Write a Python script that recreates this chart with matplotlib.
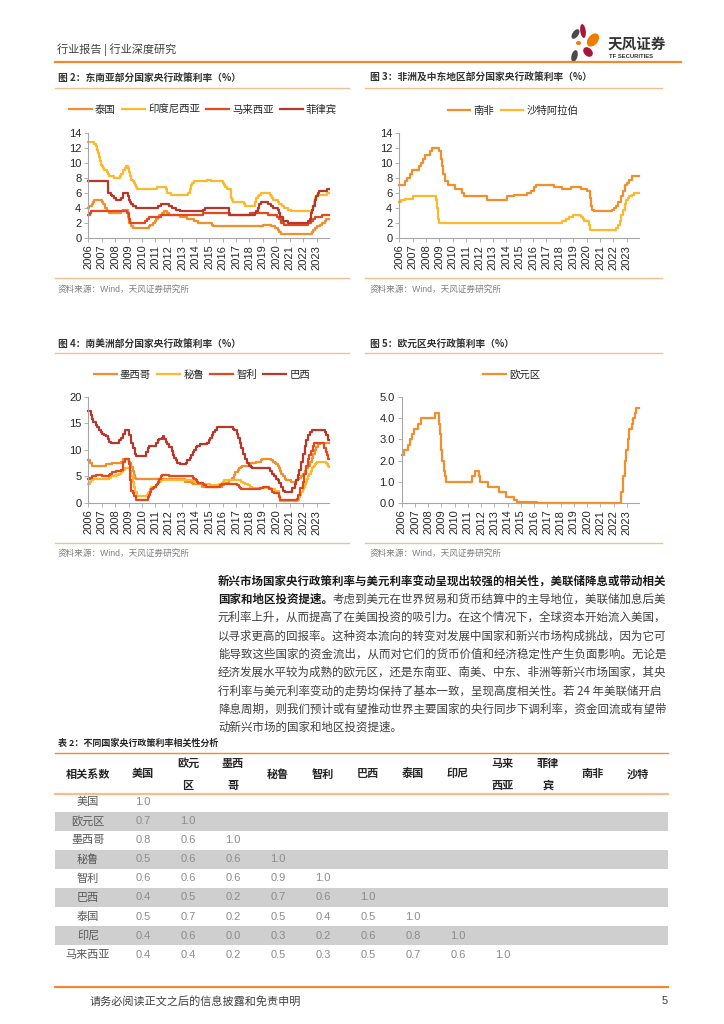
import matplotlib
matplotlib.use("Agg")
import matplotlib.pyplot as plt
from matplotlib.patches import Ellipse, Rectangle

plt.rcParams['font.family'] = ['Liberation Sans', 'Noto Sans CJK SC']
CJK = ['Noto Sans CJK SC', 'DejaVu Sans']

# ---------------- data ----------------
years = list(range(2006, 2024))

# 图2 东南亚
th_t = [2006.00, 2006.08, 2006.25, 2006.33, 2006.45, 2007.04, 2007.12, 2007.25, 2007.38, 2007.55,
        2008.45, 2008.62, 2008.92, 2009.04, 2009.15, 2009.30, 2010.55, 2010.63, 2010.80, 2010.95,
        2011.04, 2011.20, 2011.30, 2011.45, 2011.63, 2011.88, 2012.04, 2012.80, 2013.38, 2013.88,
        2014.20, 2015.20, 2015.30, 2018.97, 2019.60, 2019.88, 2020.10, 2020.22, 2020.38, 2022.62,
        2022.75, 2022.88, 2023.05, 2023.22, 2023.38, 2023.60, 2023.72, 2023.92]
th_v = [4.0, 4.25, 4.5, 4.75, 5.0, 4.75, 4.5, 4.0, 3.5, 3.25,
        3.5, 3.75, 2.75, 2.0, 1.5, 1.25, 1.5, 1.75, 2.0, 2.25,
        2.5, 2.75, 3.0, 3.25, 3.5, 3.25, 3.0, 2.75, 2.5, 2.25,
        2.0, 1.75, 1.5, 1.75, 1.5, 1.25, 1.0, 0.75, 0.5, 0.75,
        1.0, 1.25, 1.5, 1.75, 2.0, 2.25, 2.5, 2.5]

id_t = [2006.00, 2006.42, 2006.55, 2006.62, 2006.70, 2006.78, 2006.87, 2006.95, 2007.04, 2007.12,
        2007.20, 2007.38, 2007.45, 2007.55, 2007.95, 2008.38, 2008.45, 2008.55, 2008.62, 2008.70,
        2008.80, 2008.95, 2009.04, 2009.12, 2009.20, 2009.30, 2009.38, 2009.45, 2009.55, 2009.62,
        2011.12, 2011.78, 2011.87, 2012.12, 2013.45, 2013.55, 2013.62, 2013.70, 2013.87, 2014.87,
        2015.12, 2016.04, 2016.12, 2016.20, 2016.30, 2016.62, 2016.70, 2016.78, 2017.62, 2017.70,
        2018.38, 2018.42, 2018.48, 2018.62, 2018.70, 2018.87, 2019.55, 2019.62, 2019.70, 2019.78,
        2020.12, 2020.20, 2020.45, 2020.55, 2020.87, 2021.12, 2022.62, 2022.70, 2022.78, 2022.87,
        2022.95, 2023.04, 2023.78, 2023.92]
id_v = [12.75, 12.5, 12.25, 11.75, 11.25, 10.75, 10.25, 9.75, 9.5, 9.25,
        9.0, 8.75, 8.5, 8.25, 8.0, 8.25, 8.5, 8.75, 9.0, 9.25,
        9.5, 9.25, 8.75, 8.25, 7.75, 7.5, 7.25, 7.0, 6.75, 6.5,
        6.75, 6.5, 6.0, 5.75, 6.0, 6.5, 7.0, 7.25, 7.5, 7.75,
        7.5, 7.25, 7.0, 6.75, 6.5, 5.25, 5.0, 4.75, 4.5, 4.25,
        4.5, 4.75, 5.25, 5.5, 5.75, 6.0, 5.75, 5.5, 5.25, 5.0,
        4.75, 4.5, 4.25, 4.0, 3.75, 3.5, 3.75, 4.25, 4.75, 5.25,
        5.5, 5.75, 6.0, 6.0]

my_t = [2006.00, 2006.12, 2006.23, 2008.87, 2009.04, 2009.12, 2010.20, 2010.38, 2010.55, 2011.38,
        2014.55, 2016.55, 2018.04, 2019.38, 2020.04, 2020.20, 2020.38, 2020.55, 2022.38, 2022.55,
        2022.70, 2022.87, 2023.38, 2023.92]
my_v = [3.0, 3.25, 3.5, 3.25, 2.5, 2.0, 2.25, 2.5, 2.75, 3.0,
        3.25, 3.0, 3.25, 3.0, 2.75, 2.5, 2.0, 1.75, 2.0, 2.25,
        2.5, 2.75, 3.0, 3.0]

ph_t = [2006.00, 2007.50, 2007.70, 2007.80, 2007.95, 2008.04, 2008.45, 2008.55, 2008.62, 2008.95,
        2009.04, 2009.12, 2009.20, 2009.30, 2009.55, 2011.20, 2011.38, 2012.04, 2012.20, 2012.55,
        2012.80, 2014.55, 2014.70, 2016.45, 2018.38, 2018.47, 2018.62, 2018.72, 2018.87, 2019.38,
        2019.62, 2019.72, 2020.12, 2020.22, 2020.30, 2020.47, 2020.87, 2022.38, 2022.47, 2022.55,
        2022.62, 2022.72, 2022.87, 2022.95, 2023.12, 2023.20, 2023.80, 2023.92]
ph_v = [7.5, 6.0, 5.75, 5.5, 5.25, 5.0, 5.25, 5.5, 6.0, 5.5,
        5.0, 4.75, 4.5, 4.25, 4.0, 4.25, 4.5, 4.25, 4.0, 3.75,
        3.5, 3.75, 4.0, 3.0, 3.25, 3.5, 4.0, 4.5, 4.75, 4.5,
        4.25, 4.0, 3.75, 3.25, 2.75, 2.25, 2.0, 2.25, 2.5, 3.25,
        3.75, 4.25, 5.0, 5.5, 6.0, 6.25, 6.5, 6.5]

# 图3 非洲及中东
za_t = [2006.00, 2006.45, 2006.60, 2006.80, 2006.95, 2007.45, 2007.62, 2007.78, 2007.95, 2008.30,
        2008.45, 2008.95, 2009.12, 2009.20, 2009.30, 2009.38, 2009.62, 2010.20, 2010.70, 2010.87,
        2012.55, 2014.04, 2014.55, 2015.55, 2015.87, 2016.04, 2016.20, 2017.55, 2018.20, 2018.87,
        2019.55, 2020.04, 2020.22, 2020.30, 2020.38, 2020.55, 2021.87, 2022.04, 2022.20, 2022.38,
        2022.55, 2022.72, 2022.87, 2023.04, 2023.20, 2023.38, 2023.92]
za_v = [7.0, 7.5, 8.0, 8.5, 9.0, 9.5, 10.0, 10.5, 11.0, 11.5,
        12.0, 11.5, 10.5, 9.5, 8.5, 7.5, 7.0, 6.5, 6.0, 5.5,
        5.0, 5.5, 5.75, 6.0, 6.25, 6.75, 7.0, 6.75, 6.5, 6.75,
        6.5, 6.25, 5.25, 4.25, 3.75, 3.5, 3.75, 4.0, 4.25, 4.75,
        5.5, 6.25, 7.0, 7.25, 7.75, 8.25, 8.25]

sa_t = [2006.00, 2006.10, 2006.45, 2007.00, 2008.75, 2008.83, 2008.92, 2009.00, 2018.20, 2018.45,
        2018.70, 2018.95, 2019.62, 2019.72, 2019.82, 2020.15, 2020.22, 2022.20, 2022.38, 2022.47,
        2022.55, 2022.72, 2022.87, 2022.95, 2023.12, 2023.20, 2023.38, 2023.55, 2023.92]
sa_v = [4.75, 5.0, 5.2, 5.5, 5.0, 4.0, 2.5, 2.0, 2.25, 2.5,
        2.75, 3.0, 2.75, 2.5, 2.25, 1.75, 1.0, 1.25, 1.75, 2.25,
        3.0, 3.75, 4.5, 5.0, 5.25, 5.5, 5.75, 6.0, 6.0]

# 图4 南美洲
mx_t = [2006.00, 2006.12, 2006.30, 2007.30, 2007.80, 2008.45, 2008.55, 2008.62, 2009.04, 2009.12,
        2009.20, 2009.30, 2009.38, 2009.45, 2009.55, 2013.20, 2013.70, 2013.80, 2014.45, 2015.95,
        2016.12, 2016.45, 2016.72, 2016.87, 2016.95, 2017.12, 2017.20, 2017.38, 2017.47, 2017.95,
        2018.12, 2018.47, 2018.87, 2018.95, 2019.62, 2019.72, 2019.87, 2019.95, 2020.12, 2020.22,
        2020.30, 2020.38, 2020.47, 2020.62, 2020.72, 2021.12, 2021.47, 2021.62, 2021.72, 2021.87,
        2021.95, 2022.12, 2022.22, 2022.38, 2022.47, 2022.62, 2022.72, 2022.87, 2022.95, 2023.12,
        2023.22, 2023.92]
mx_v = [8.0, 7.5, 7.0, 7.25, 7.5, 7.75, 8.0, 8.25, 7.75, 7.5,
        6.75, 6.0, 5.25, 4.75, 4.5, 4.0, 3.75, 3.5, 3.0, 3.25,
        3.75, 4.25, 4.75, 5.25, 5.75, 6.25, 6.5, 6.75, 7.0, 7.25,
        7.5, 7.75, 8.0, 8.25, 8.0, 7.75, 7.5, 7.25, 7.0, 6.5,
        6.0, 5.5, 5.0, 4.5, 4.25, 4.0, 4.25, 4.5, 4.75, 5.0,
        5.5, 6.0, 6.5, 7.0, 7.75, 8.5, 9.25, 10.0, 10.5, 11.0,
        11.25, 11.25]

pe_t = [2006.00, 2006.10, 2006.20, 2006.35, 2007.55, 2007.70, 2008.04, 2008.30, 2008.45, 2008.55,
        2008.62, 2008.70, 2009.12, 2009.20, 2009.30, 2009.38, 2009.45, 2009.60, 2010.38, 2010.45,
        2010.55, 2010.62, 2010.70, 2011.04, 2011.12, 2011.20, 2011.30, 2011.38, 2013.87, 2014.04,
        2014.55, 2015.04, 2015.70, 2015.95, 2016.04, 2016.12, 2017.38, 2017.55, 2017.70, 2017.87,
        2018.04, 2018.20, 2019.62, 2019.87, 2020.20, 2020.30, 2021.62, 2021.72, 2021.78, 2021.87,
        2021.95, 2022.04, 2022.12, 2022.20, 2022.30, 2022.38, 2022.45, 2022.55, 2022.62, 2022.70,
        2022.78, 2022.87, 2022.95, 2023.04, 2023.70, 2023.78, 2023.84, 2023.92]
pe_v = [3.5, 4.0, 4.25, 4.5, 4.75, 5.0, 5.25, 5.5, 5.75, 6.0,
        6.25, 6.5, 6.0, 5.0, 4.0, 3.0, 2.0, 1.25, 1.5, 1.75,
        2.0, 2.5, 3.0, 3.25, 3.5, 3.75, 4.0, 4.25, 4.0, 3.75,
        3.5, 3.25, 3.5, 3.75, 4.0, 4.25, 4.0, 3.75, 3.5, 3.25,
        3.0, 2.75, 2.5, 2.25, 1.25, 0.25, 0.5, 1.0, 1.5, 2.0,
        2.5, 3.0, 3.5, 4.0, 4.5, 5.0, 5.5, 6.0, 6.5, 6.75,
        7.0, 7.25, 7.5, 7.75, 7.5, 7.25, 7.0, 6.75]

cl_t = [2006.00, 2006.12, 2006.30, 2006.55, 2007.04, 2007.55, 2007.62, 2007.78, 2008.04, 2008.45,
        2008.55, 2008.62, 2008.70, 2009.04, 2009.12, 2009.20, 2009.30, 2009.38, 2009.55, 2010.45,
        2010.55, 2010.62, 2010.70, 2010.78, 2010.87, 2011.04, 2011.12, 2011.20, 2011.30, 2011.38,
        2011.47, 2012.04, 2013.78, 2013.87, 2014.04, 2014.12, 2014.20, 2014.55, 2014.62, 2014.78,
        2015.78, 2015.95, 2017.04, 2017.20, 2017.30, 2017.38, 2018.78, 2019.04, 2019.45, 2019.70,
        2019.80, 2020.20, 2020.30, 2021.55, 2021.62, 2021.78, 2021.95, 2022.04, 2022.20, 2022.38,
        2022.45, 2022.55, 2022.70, 2022.78, 2023.55, 2023.70, 2023.80, 2023.87, 2023.92]
cl_v = [4.5, 4.75, 5.0, 5.25, 5.0, 5.25, 5.5, 5.75, 6.0, 6.25,
        7.25, 7.75, 8.25, 7.25, 4.25, 2.25, 1.75, 1.25, 0.5, 1.0,
        1.5, 2.0, 2.5, 2.75, 3.0, 3.25, 3.5, 4.0, 4.5, 5.0,
        5.25, 5.0, 4.75, 4.5, 4.25, 4.0, 3.75, 3.5, 3.25, 3.0,
        3.25, 3.5, 3.25, 3.0, 2.75, 2.5, 2.75, 3.0, 2.5, 2.0,
        1.75, 1.0, 0.5, 0.75, 1.5, 2.75, 4.0, 5.5, 7.0, 8.25,
        9.0, 9.75, 10.75, 11.25, 10.25, 9.5, 9.0, 8.25, 8.25]

br_t = [2006.00, 2006.20, 2006.30, 2006.38, 2006.55, 2006.62, 2006.80, 2006.95, 2007.04, 2007.20,
        2007.30, 2007.45, 2007.55, 2007.70, 2008.30, 2008.45, 2008.55, 2008.70, 2009.04, 2009.20,
        2009.30, 2009.45, 2009.55, 2010.30, 2010.45, 2010.55, 2011.04, 2011.20, 2011.30, 2011.45,
        2011.55, 2011.62, 2011.80, 2011.87, 2012.04, 2012.20, 2012.30, 2012.38, 2012.55, 2012.62,
        2012.80, 2013.30, 2013.38, 2013.55, 2013.62, 2013.80, 2013.87, 2014.04, 2014.12, 2014.30,
        2014.80, 2014.95, 2015.04, 2015.20, 2015.30, 2015.45, 2015.55, 2016.80, 2016.87, 2017.04,
        2017.12, 2017.30, 2017.38, 2017.55, 2017.70, 2017.80, 2017.95, 2018.12, 2018.20, 2019.55,
        2019.70, 2019.80, 2019.95, 2020.12, 2020.20, 2020.38, 2020.47, 2020.62, 2021.20, 2021.38,
        2021.47, 2021.62, 2021.72, 2021.80, 2021.95, 2022.12, 2022.20, 2022.38, 2022.47, 2022.62,
        2023.60, 2023.72, 2023.82, 2023.88, 2023.92]
br_v = [17.25, 16.5, 15.75, 15.25, 14.75, 14.25, 13.75, 13.25, 13.0, 12.75,
        12.5, 12.0, 11.5, 11.25, 11.75, 12.25, 13.0, 13.75, 12.75, 11.25,
        10.25, 9.25, 8.75, 9.5, 10.25, 10.75, 11.25, 11.75, 12.0, 12.25,
        12.5, 12.0, 11.5, 11.0, 10.5, 9.75, 9.0, 8.5, 8.0, 7.5,
        7.25, 7.5, 8.0, 8.5, 9.0, 9.5, 10.0, 10.5, 10.75, 11.0,
        11.25, 11.75, 12.25, 12.75, 13.25, 13.75, 14.25, 14.0, 13.75, 13.0,
        12.25, 11.25, 10.25, 9.25, 8.25, 7.5, 7.0, 6.75, 6.5, 6.0,
        5.5, 5.0, 4.5, 4.25, 3.75, 3.0, 2.25, 2.0, 2.75, 3.5,
        4.25, 5.25, 6.25, 7.75, 9.25, 10.75, 11.75, 12.75, 13.25, 13.75,
        13.25, 12.75, 12.25, 11.75, 11.75]

# 图5 欧元区
eu_t = [2006.00, 2006.20, 2006.45, 2006.62, 2006.78, 2006.95, 2007.20, 2007.45, 2008.55, 2008.78,
        2008.87, 2008.95, 2009.04, 2009.20, 2009.30, 2009.38, 2011.30, 2011.55, 2011.87, 2011.95,
        2012.55, 2013.38, 2013.87, 2014.45, 2014.70, 2016.20, 2022.55, 2022.70, 2022.87, 2022.95,
        2023.12, 2023.20, 2023.38, 2023.45, 2023.62, 2023.72, 2023.92]
eu_v = [2.25, 2.5, 2.75, 3.0, 3.25, 3.5, 3.75, 4.0, 4.25, 3.75,
        3.25, 2.5, 2.0, 1.5, 1.25, 1.0, 1.25, 1.5, 1.25, 1.0,
        0.75, 0.5, 0.25, 0.15, 0.05, 0.0, 0.5, 1.25, 2.0, 2.5,
        3.0, 3.5, 3.75, 4.0, 4.25, 4.5, 4.5]

# 表2 相关系数
corr_cols = ['相关系数', '美国', '欧元\n区', '墨西\n哥', '秘鲁', '智利', '巴西', '泰国', '印尼',
             '马来\n西亚', '菲律\n宾', '南非', '沙特']
corr_rows = ['美国', '欧元区', '墨西哥', '秘鲁', '智利', '巴西', '泰国', '印尼', '马来西亚']
corr_vals = [[1.0],
             [0.7, 1.0],
             [0.8, 0.6, 1.0],
             [0.5, 0.6, 0.6, 1.0],
             [0.6, 0.6, 0.6, 0.9, 1.0],
             [0.4, 0.5, 0.2, 0.7, 0.6, 1.0],
             [0.5, 0.7, 0.2, 0.5, 0.4, 0.5, 1.0],
             [0.4, 0.6, 0.0, 0.3, 0.2, 0.6, 0.8, 1.0],
             [0.4, 0.4, 0.2, 0.5, 0.3, 0.5, 0.7, 0.6, 1.0]]

body_lines = [
    "元利率上升，从而提高了在美国投资的吸引力。在这个情况下，全球资本开始流入美国，",
    "以寻求更高的回报率。这种资本流向的转变对发展中国家和新兴市场构成挑战，因为它可",
    "能导致这些国家的资金流出，从而对它们的货币价值和经济稳定性产生负面影响。无论是",
    "经济发展水平较为成熟的欧元区，还是东南亚、南美、中东、非洲等新兴市场国家，其央",
    "行利率与美元利率变动的走势均保持了基本一致，呈现高度相关性。若 24 年美联储开启",
    "降息周期，则我们预计或有望推动世界主要国家的央行同步下调利率，资金回流或有望带",
    "动新兴市场的国家和地区投资提速。",
]
bold_line1 = "新兴市场国家央行政策利率与美元利率变动呈现出较强的相关性，美联储降息或带动相关"
bold_line2 = "国家和地区投资提速。"
rest_line2 = "考虑到美元在世界贸易和货币结算中的主导地位，美联储加息后美"

C_OR = '#F28E2B'
C_YE = '#FDB92C'
C_RE = '#E4481F'
C_DR = '#B7372A'
LINE_OR = '#F08A2C'
LINE_LT = '#F6BE8E'
W, H = 724, 1024

fig = plt.figure(figsize=(7.24, 10.24), dpi=100)
page = fig.add_axes([0, 0, 1, 1])
page.set_xlim(0, W)
page.set_ylim(H, 0)
page.axis('off')


def px_axes(left, top, right, bottom):
    return fig.add_axes([left / W, 1 - bottom / H, (right - left) / W, (bottom - top) / H])


def style(ax, ymax, ystep, fmt=None):
    ax.set_xlim(2006, 2023.92)
    ax.set_ylim(0, ymax)
    ax.set_xticks(years)
    ax.set_xticklabels([str(y) for y in years], rotation=90)
    yt = [i * ystep for i in range(int(round(ymax / ystep)) + 1)]
    ax.set_yticks(yt)
    if fmt:
        ax.set_yticklabels([fmt % v for v in yt])
    for s in ['top', 'right']:
        ax.spines[s].set_visible(False)
    for s in ['left', 'bottom']:
        ax.spines[s].set_color('#A6A6A6')
        ax.spines[s].set_linewidth(0.8)
    ax.tick_params(direction='out', length=3, width=0.6, color='#A6A6A6',
                   labelsize=8, labelcolor='#262626', pad=2)
    ax.patch.set_alpha(0)


def legend(ax, cx, cy, n):
    ax.legend(loc='center', bbox_to_anchor=(cx / W, 1 - cy / H), bbox_transform=fig.transFigure,
              ncol=n, frameon=False, prop={'family': CJK, 'size': 7.5},
              handlelength=2.2, handletextpad=0.3, columnspacing=0.6, labelcolor='#262626')


# ---- header ----
page.text(57, 50, "行业报告 | 行业深度研究", family=CJK, fontsize=8, color='#404040', va='center')
page.plot([55, 681], [61.5, 61.5], color=LINE_OR, lw=1.6)
for cx, cy, w, h, a, c in [(575.5, 34, 6, 11, 35, '#4A4A4A'), (583, 31, 5.5, 14, -8, '#A8173A'),
                           (593, 40, 10, 15, 40, '#EF7D00'), (578.5, 43, 5, 4, 0, '#EF7D00'),
                           (588, 52, 8, 11, -45, '#A8173A'), (574.5, 56, 6, 12, 15, '#4A4A4A')]:
    page.add_patch(Ellipse((cx, cy), w, h, angle=a, color=c, lw=0))
page.text(608, 44, "天风证券", family=CJK, fontsize=10.5, fontweight='bold', color='#333333', va='center')
page.text(609, 56.5, "TF SECURITIES", fontsize=4.2, fontweight='bold', color='#333333', va='center')

# ---- chart frames ----
titles = [(58, 78, "图 2：东南亚部分国家央行政策利率（%）"), (370, 78, "图 3：非洲及中东地区部分国家央行政策利率（%）"),
          (58, 344, "图 4：南美洲部分国家央行政策利率（%）"), (370, 344, "图 5：欧元区央行政策利率（%）")]
for x, y, t in titles:
    page.text(x, y, t, family=CJK, fontsize=7, fontweight='bold', color='#333333', va='center')
for y in [88, 278, 353, 543]:
    page.plot([55, 349], [y, y], color=LINE_LT, lw=1.0)
    page.plot([365, 662], [y, y], color=LINE_LT, lw=1.0)
for x, y in [(58, 289), (370, 289), (58, 553), (370, 553)]:
    page.text(x, y, "资料来源：Wind，天风证券研究所", family=['Liberation Sans', 'Noto Sans CJK SC'],
              fontsize=6.2, color='#7F7F7F', va='center')

# 图2
ax2 = px_axes(88.3, 132.7, 329, 237.7)
ax2.step(th_t, th_v, where='post', color=C_OR, lw=1.6, label='泰国', clip_on=False)
ax2.step(id_t, id_v, where='post', color=C_YE, lw=1.6, label='印度尼西亚', clip_on=False)
ax2.step(my_t, my_v, where='post', color=C_RE, lw=1.6, label='马来西亚', clip_on=False)
ax2.step(ph_t, ph_v, where='post', color=C_DR, lw=1.6, label='菲律宾', clip_on=False)
style(ax2, 14, 2)
legend(ax2, 203, 110, 4)

# 图3
ax3 = px_axes(399.3, 132.7, 639, 237.7)
ax3.step(za_t, za_v, where='post', color=C_OR, lw=1.6, label='南非', clip_on=False)
ax3.step(sa_t, sa_v, where='post', color=C_YE, lw=1.6, label='沙特阿拉伯', clip_on=False)
style(ax3, 14, 2)
legend(ax3, 513, 110.5, 2)

# 图4
ax4 = px_axes(88.3, 396.7, 329, 502.7)
ax4.step(mx_t, mx_v, where='post', color=C_OR, lw=1.6, label='墨西哥', clip_on=False)
ax4.step(pe_t, pe_v, where='post', color=C_YE, lw=1.6, label='秘鲁', clip_on=False)
ax4.step(cl_t, cl_v, where='post', color=C_RE, lw=1.6, label='智利', clip_on=False)
ax4.step(br_t, br_v, where='post', color=C_DR, lw=1.6, label='巴西', clip_on=False)
style(ax4, 20, 5)
legend(ax4, 202, 375, 4)

# 图5
ax5 = px_axes(401.7, 397.3, 639, 502.7)
ax5.step(eu_t, eu_v, where='post', color=C_OR, lw=1.6, label='欧元区', clip_on=False)
style(ax5, 5, 1, '%.1f')
legend(ax5, 512, 375, 1)

# ---- body text ----
fs_body = 8.25
em = fs_body * 100 / 72
x0 = 218
y0 = 581
dy = 18.3
page.text(x0, y0, bold_line1, family=CJK, fontsize=fs_body, fontweight='bold', color='#1A1A1A', va='center')
page.text(x0, y0 + dy, bold_line2, family=CJK, fontsize=fs_body, fontweight='bold', color='#1A1A1A', va='center')
page.text(x0 + em * len(bold_line2), y0 + dy, rest_line2, family=CJK, fontsize=fs_body,
          color='#404040', va='center')
for i, line in enumerate(body_lines):
    page.text(x0, y0 + dy * (i + 2), line, family=CJK, fontsize=fs_body, color='#404040', va='center')

# ---- table ----
page.text(58, 743, "表 2：不同国家央行政策利率相关性分析", family=CJK, fontsize=6.5, fontweight='bold',
          color='#262626', va='center')
page.plot([55, 668], [753, 753], color=LINE_OR, lw=1.0)
page.plot([55, 668], [794, 794], color=LINE_LT, lw=1.6)
col_x = [88, 143, 188, 233, 278, 323, 368, 413, 458, 503, 548, 593, 638]
for x, lab in zip(col_x, corr_cols):
    page.text(x, 774, lab, family=CJK, fontsize=8, fontweight='bold', color='#262626',
              ha='center', va='center', linespacing=1.9)
row_y0 = 802
row_h = 19.1
for i, (rlab, vals) in enumerate(zip(corr_rows, corr_vals)):
    y = row_y0 + i * row_h
    if i % 2 == 1:
        page.add_patch(Rectangle((55, y - row_h / 2), 613, row_h, color='#CFCFCF', lw=0))
    page.text(col_x[0], y, rlab, family=CJK, fontsize=8, color='#595959', ha='center', va='center')
    for j, v in enumerate(vals):
        page.text(col_x[j + 1], y, "%.1f" % v, fontsize=8, color='#8C8C8C', ha='center', va='center')

# ---- footer ----
page.plot([55, 668], [987, 987], color=LINE_OR, lw=1.6)
page.text(90, 1001, "请务必阅读正文之后的信息披露和免责申明", family=CJK, fontsize=8, color='#404040', va='center')
page.text(668, 1001, "5", fontsize=8, color='#404040', va='center', ha='right')

fig.savefig("out.png", dpi=100)
